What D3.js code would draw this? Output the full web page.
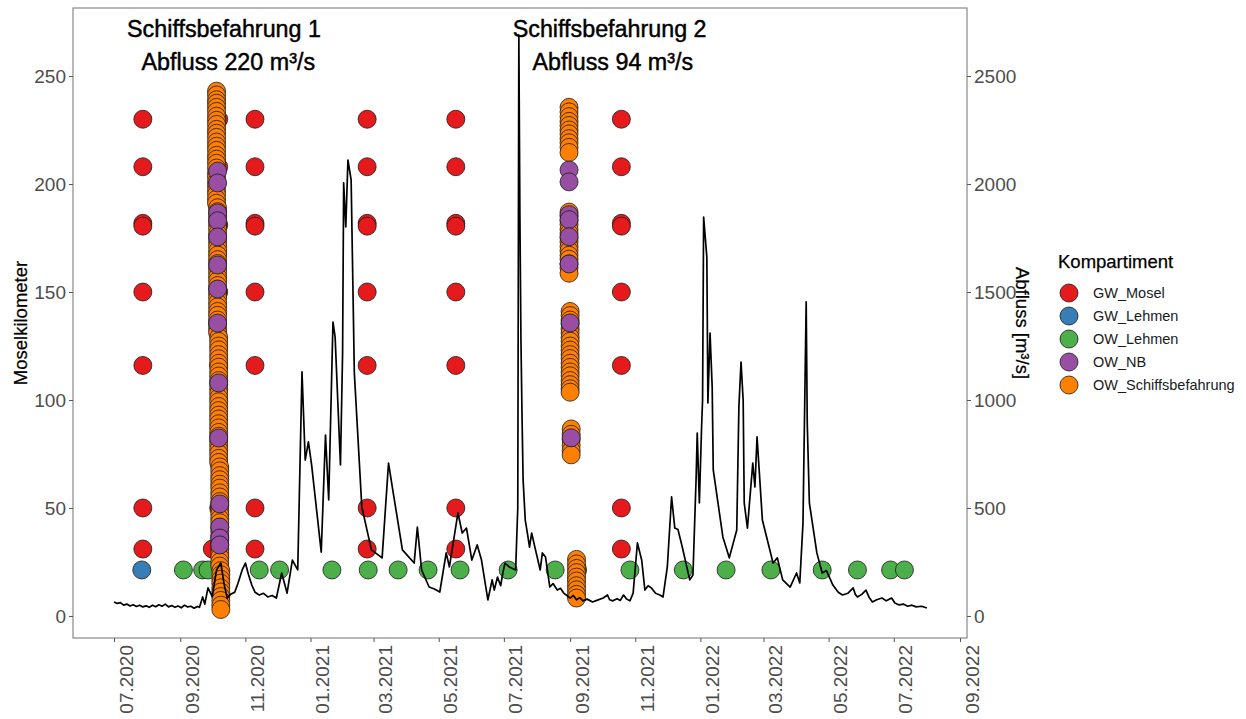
<!DOCTYPE html>
<html>
<head>
<meta charset="utf-8">
<title>Moselkilometer und Abfluss</title>
<script src="https://d3js.org/d3.v7.min.js"></script>
<style>
  body { margin: 0; background: #fff; }
  text { font-family: "Liberation Sans", Arial, sans-serif; }
</style>
</head>
<body>
<div id="chart"></div>
<script>
// ---- data ----
// GW_Mosel: sampling dates and the wells (Moselkilometer) sampled each time
var gwMoselDates = ["2020-07-28", "2020-11-10", "2021-02-23", "2021-05-17", "2021-10-19"];
var gwMoselKm = [230, 208, 181.8, 180.5, 150, 116, 50, 31];
// GW_Mosel points that sit behind the first ship campaign
var gwMoselHidden = [["2020-10-07", 230], ["2020-10-07", 208], ["2020-10-07", 181], ["2020-10-07", 150],
                     ["2020-10-07", 116], ["2020-10-07", 50], ["2020-10-01", 31]];

var gwLehmen = [["2020-07-27", 21.3]];

var owLehmen = [["2020-09-04", 21.3], ["2020-09-22", 21.3], ["2020-09-27", 21.3], ["2020-11-14", 21.3],
                ["2020-12-03", 21.3], ["2021-01-21", 21.3], ["2021-02-24", 21.3], ["2021-03-24", 21.3],
                ["2021-04-21", 21.3], ["2021-05-21", 21.3], ["2021-07-05", 21.3], ["2021-08-18", 21.3],
                ["2021-09-08", 21.3], ["2021-10-27", 21.3], ["2021-12-16", 21.3], ["2022-01-25", 21.3],
                ["2022-03-08", 21.3], ["2022-04-25", 21.3], ["2022-05-28", 21.3], ["2022-06-28", 21.3],
                ["2022-07-11", 21.3]];

// OW_NB (per day of the ship campaigns)
var owNB = [
  ["2020-10-06", [206, 200.5, 186.6, 183, 175.5, 162.5, 151.4, 135.6]],
  ["2020-10-07", [107.9, 82.4]],
  ["2020-10-08", [51.9, 41.2, 36.1, 32.9]],
  ["2021-08-31", [206.5, 201, 185.8, 183.5, 175.6, 163]],
  ["2021-09-01", [135.7]],
  ["2021-09-02", [82.5]]
];

// OW_Schiffsbefahrung (per day of the ship campaigns)
var owSchiff = [
  ["2020-10-05", [243, 241.2, 239, 237.4, 235.5, 233.6, 231.4, 229.5, 227.6, 225.3, 223.5, 221.6, 219.4,
                  217.5, 215.6, 213.3, 211.5, 209.6, 207.4, 205, 203.2, 201, 199.1, 197, 195.2, 193, 191.1]],
  ["2020-10-06", [189, 187.2, 185, 183.1, 181, 179.2, 177, 175.1, 173, 171.2, 169, 167.1, 165, 163.2, 161,
                  159.1, 157, 155.2, 153, 151.1, 149, 147.2, 145, 143.1, 141, 139.2, 137, 135.1, 133, 131.2]],
  ["2020-10-07", [129, 127.1, 125, 123.2, 121, 119.1, 117, 115.2, 113, 111.1, 109, 107.2, 105, 103.1, 101,
                  99.2, 97, 95.1, 93, 91.2, 89, 87.1, 85, 83.2, 81, 79.1, 77, 75.2, 73, 71.1]],
  ["2020-10-08", [69, 67.2, 65, 63.1, 61, 59.2, 57, 55.1, 53, 51.2, 49, 47.1, 45, 43.2, 41, 39.1, 37, 35.2,
                  33, 31.1, 29, 27.2, 25, 23.1]],
  ["2020-10-09", [21, 19.1, 17, 15.2, 13, 11.1, 9, 7.2, 5, 3]],
  ["2021-08-31", [235.5, 233.4, 231.2, 229, 227.1, 225, 223.2, 221, 219.1, 217, 214.6,
                  187, 185.1, 183, 181.2, 179, 177.1, 175, 173.2, 171, 169.1, 167, 165.2, 163, 161.1, 158.7]],
  ["2021-09-01", [141, 139.1, 137, 135.2, 133, 131.1, 129, 127.2, 125, 123.1, 121, 119.2, 117, 115.1, 113,
                  111.2, 109, 107.1, 105.2, 103.6]],
  ["2021-09-02", [86.6, 84.1, 81.6, 79, 76.6, 74.6]],
  ["2021-09-07", [26.2, 24.1, 22, 20.1, 18, 16.2, 14, 12.1, 10, 8.3]]
];

// Abfluss [m³/s], turning points of the daily series
var abfluss = [
  ["2020-07-01", 65], ["2020-07-04", 58], ["2020-07-07", 62], ["2020-07-10", 50], ["2020-07-13", 55],
  ["2020-07-16", 46], ["2020-07-19", 52], ["2020-07-22", 44], ["2020-07-25", 50], ["2020-07-28", 42],
  ["2020-07-31", 47], ["2020-08-03", 40], ["2020-08-06", 50], ["2020-08-09", 43], ["2020-08-12", 52],
  ["2020-08-15", 45], ["2020-08-18", 55], ["2020-08-21", 42], ["2020-08-24", 48], ["2020-08-27", 40],
  ["2020-08-30", 46], ["2020-09-02", 38], ["2020-09-05", 50], ["2020-09-08", 42], ["2020-09-11", 45],
  ["2020-09-14", 36], ["2020-09-17", 44], ["2020-09-19", 40],
  ["2020-09-22", 88], ["2020-09-24", 55], ["2020-09-27", 130], ["2020-10-01", 90], ["2020-10-05", 213],
  ["2020-10-09", 245], ["2020-10-12", 150], ["2020-10-15", 83], ["2020-10-18", 100], ["2020-10-22", 110],
  ["2020-10-25", 150], ["2020-10-29", 213], ["2020-11-01", 245], ["2020-11-04", 190], ["2020-11-07", 143],
  ["2020-11-10", 110], ["2020-11-14", 97], ["2020-11-18", 105], ["2020-11-22", 88], ["2020-11-26", 95],
  ["2020-11-30", 83],
  ["2020-12-05", 199], ["2020-12-10", 106], ["2020-12-15", 259], ["2020-12-20", 213], ["2020-12-24", 1130],
  ["2020-12-27", 722], ["2020-12-30", 806], ["2021-01-02", 700], ["2021-01-11", 296], ["2021-01-15", 838],
  ["2021-01-18", 537], ["2021-01-22", 1361], ["2021-01-24", 1292], ["2021-01-29", 699], ["2021-01-31", 1218],
  ["2021-02-01", 2005], ["2021-02-03", 1801], ["2021-02-05", 2111], ["2021-02-08", 2019], ["2021-02-11", 1125],
  ["2021-02-18", 505], ["2021-02-27", 306], ["2021-03-09", 269], ["2021-03-15", 708], ["2021-03-19", 583],
  ["2021-03-28", 306], ["2021-04-08", 245], ["2021-04-11", 412], ["2021-04-15", 213], ["2021-04-22", 134],
  ["2021-04-27", 125], ["2021-05-02", 111], ["2021-05-08", 292], ["2021-05-11", 227], ["2021-05-19", 477],
  ["2021-05-23", 384], ["2021-05-27", 407], ["2021-06-01", 259], ["2021-06-06", 329], ["2021-06-10", 260],
  ["2021-06-16", 74], ["2021-06-20", 167], ["2021-06-22", 120], ["2021-06-25", 180], ["2021-06-28", 140],
  ["2021-06-30", 199], ["2021-07-02", 245], ["2021-07-06", 227],
  ["2021-07-12", 213], ["2021-07-14", 500], ["2021-07-15", 2690], ["2021-07-16", 1850], ["2021-07-17", 1270],
  ["2021-07-18", 920], ["2021-07-19", 630], ["2021-07-21", 444], ["2021-07-23", 384], ["2021-07-25", 319],
  ["2021-07-27", 384], ["2021-07-30", 319], ["2021-08-04", 213], ["2021-08-06", 292], ["2021-08-09", 273],
  ["2021-08-13", 134], ["2021-08-16", 150], ["2021-08-20", 120], ["2021-08-23", 128], ["2021-08-26", 106],
  ["2021-09-01", 83], ["2021-09-04", 95], ["2021-09-07", 75], ["2021-09-10", 85], ["2021-09-13", 70],
  ["2021-09-17", 78], ["2021-09-22", 65], ["2021-09-26", 72], ["2021-10-02", 83], ["2021-10-06", 97],
  ["2021-10-08", 75], ["2021-10-11", 70], ["2021-10-15", 80], ["2021-10-18", 72], ["2021-10-21", 97],
  ["2021-10-24", 78], ["2021-10-27", 70], ["2021-10-30", 106], ["2021-11-03", 338], ["2021-11-07", 259],
  ["2021-11-10", 120], ["2021-11-13", 140], ["2021-11-16", 130], ["2021-11-20", 105], ["2021-11-24", 97],
  ["2021-11-27", 88], ["2021-12-01", 227],
  ["2021-12-05", 551], ["2021-12-08", 407], ["2021-12-11", 400], ["2021-12-15", 319], ["2021-12-22", 167],
  ["2021-12-25", 190], ["2021-12-28", 644], ["2021-12-29", 847], ["2021-12-31", 523], ["2022-01-02", 861],
  ["2022-01-03", 1000], ["2022-01-04", 1847], ["2022-01-07", 1662], ["2022-01-08", 986], ["2022-01-10", 1310],
  ["2022-01-12", 1060], ["2022-01-13", 676], ["2022-01-22", 366], ["2022-01-28", 269], ["2022-02-04", 398],
  ["2022-02-06", 968], ["2022-02-08", 1176], ["2022-02-10", 1000], ["2022-02-11", 523], ["2022-02-14", 407],
  ["2022-02-19", 708], ["2022-02-21", 597], ["2022-02-23", 829], ["2022-02-25", 676], ["2022-02-28", 444],
  ["2022-03-10", 245], ["2022-03-14", 269], ["2022-03-19", 167], ["2022-03-26", 134], ["2022-04-01", 199],
  ["2022-04-04", 153], ["2022-04-07", 430], ["2022-04-10", 1454], ["2022-04-11", 894], ["2022-04-13", 523],
  ["2022-04-20", 292], ["2022-04-25", 199], ["2022-04-29", 210], ["2022-05-05", 143], ["2022-05-10", 110],
  ["2022-05-14", 97], ["2022-05-19", 105], ["2022-05-24", 130], ["2022-05-26", 100], ["2022-05-28", 88],
  ["2022-06-01", 100], ["2022-06-05", 120], ["2022-06-08", 85], ["2022-06-11", 65], ["2022-06-15", 75],
  ["2022-06-20", 83], ["2022-06-24", 70], ["2022-06-29", 83], ["2022-07-02", 60], ["2022-07-06", 51],
  ["2022-07-10", 55], ["2022-07-14", 45], ["2022-07-18", 50], ["2022-07-22", 42], ["2022-07-27", 45],
  ["2022-08-01", 37]
];

var kmTicks = [0, 50, 100, 150, 200, 250];
var abflussTicks = [0, 500, 1000, 1500, 2000, 2500];
var dateTicks = ["2020-07-01", "2020-09-01", "2020-11-01", "2021-01-01", "2021-03-01", "2021-05-01",
                 "2021-07-01", "2021-09-01", "2021-11-01", "2022-01-01", "2022-03-01", "2022-05-01",
                 "2022-07-01", "2022-09-01"];

var categories = ["GW_Mosel", "GW_Lehmen", "OW_Lehmen", "OW_NB", "OW_Schiffsbefahrung"];
var catColors = ["#E41A1C", "#377EB8", "#4DAF4A", "#984EA3", "#FF7F00"];

var annotations = [
  { date: "2020-10-12", km: 268, text: "Schiffsbefahrung 1" },
  { date: "2020-10-16", km: 252.8, text: "Abfluss 220 m³/s" },
  { date: "2021-10-08", km: 268, text: "Schiffsbefahrung 2" },
  { date: "2021-10-11", km: 252.8, text: "Abfluss 94 m³/s" }
];

// ---- layout ----
var W = 1246, H = 719;
var panel = { left: 73, top: 8, right: 967, bottom: 638 };
var parse = d3.timeParse("%Y-%m-%d");

var svg = d3.select("#chart").append("svg")
  .attr("width", W).attr("height", H)
  .style("background", "#fff");

// scales
var x = d3.scaleTime()
  .domain([parse("2020-07-01"), parse("2022-09-01")])
  .range([114, 960]);
var y = d3.scaleLinear().domain([-10.2, 281.5]).range([panel.bottom, panel.top]);
var y2 = d3.scaleLinear().domain([-102, 2815]).range([panel.bottom, panel.top]);
var color = d3.scaleOrdinal().domain(categories).range(catColors);

// build point table
var points = [];
gwMoselDates.forEach(function(d) {
  gwMoselKm.forEach(function(k) { points.push({ cat: "GW_Mosel", date: d, km: k }); });
});
gwMoselHidden.forEach(function(p) { points.push({ cat: "GW_Mosel", date: p[0], km: p[1] }); });
gwLehmen.forEach(function(p) { points.push({ cat: "GW_Lehmen", date: p[0], km: p[1] }); });
owLehmen.forEach(function(p) { points.push({ cat: "OW_Lehmen", date: p[0], km: p[1] }); });
owSchiff.forEach(function(g) {
  g[1].forEach(function(k) { points.push({ cat: "OW_Schiffsbefahrung", date: g[0], km: k }); });
});
owNB.forEach(function(g) {
  g[1].forEach(function(k) { points.push({ cat: "OW_NB", date: g[0], km: k }); });
});

// points
svg.append("g").selectAll("circle")
  .data(points)
  .enter().append("circle")
  .attr("cx", function(d) { return x(parse(d.date)); })
  .attr("cy", function(d) { return y(d.km); })
  .attr("r", 9)
  .attr("fill", function(d) { return color(d.cat); })
  .attr("stroke", "#1a1a1a")
  .attr("stroke-width", 0.8);

// Abfluss line
var line = d3.line()
  .x(function(d) { return x(parse(d[0])); })
  .y(function(d) { return y2(d[1]); });
svg.append("path")
  .datum(abfluss)
  .attr("d", line)
  .attr("fill", "none")
  .attr("stroke", "#000")
  .attr("stroke-width", 1.7)
  .attr("stroke-linejoin", "round");

// annotations
svg.append("g").selectAll("text")
  .data(annotations)
  .enter().append("text")
  .attr("x", function(d) { return x(parse(d.date)); })
  .attr("y", function(d) { return y(d.km); })
  .attr("text-anchor", "middle")
  .style("font-size", "23.3px")
  .attr("fill", "#000")
  .attr("stroke", "#000")
  .attr("stroke-width", 0.45)
  .text(function(d) { return d.text; });

// panel border
svg.append("rect")
  .attr("x", panel.left).attr("y", panel.top)
  .attr("width", panel.right - panel.left).attr("height", panel.bottom - panel.top)
  .attr("fill", "none")
  .attr("stroke", "#7f7f7f")
  .attr("stroke-width", 1.1);

// axes
function styleAxis(g) {
  g.select(".domain").remove();
  g.selectAll(".tick line").attr("stroke", "#555");
  g.selectAll(".tick text").attr("fill", "#4d4d4d").style("font-size", "19px");
}

svg.append("g")
  .attr("transform", "translate(" + panel.left + ",0)")
  .call(d3.axisLeft(y).tickValues(kmTicks).tickSize(4).tickPadding(3))
  .call(styleAxis);

svg.append("g")
  .attr("transform", "translate(" + panel.right + ",0)")
  .call(d3.axisRight(y2).tickValues(abflussTicks).tickSize(4).tickPadding(3)
    .tickFormat(d3.format("d")))
  .call(styleAxis);

var xAxis = svg.append("g")
  .attr("transform", "translate(0," + panel.bottom + ")")
  .call(d3.axisBottom(x).tickValues(dateTicks.map(parse)).tickSize(4)
    .tickFormat(d3.timeFormat("%m.%Y")))
  .call(styleAxis);
xAxis.selectAll(".tick text")
  .attr("transform", "rotate(-90)")
  .attr("x", -7).attr("y", 18).attr("dy", 0)
  .attr("text-anchor", "end");

// axis titles
svg.append("text")
  .attr("transform", "translate(27,323) rotate(-90)")
  .attr("text-anchor", "middle")
  .style("font-size", "18.5px")
  .attr("stroke", "#000").attr("stroke-width", 0.25)
  .text("Moselkilometer");

svg.append("text")
  .attr("transform", "translate(1016,323) rotate(90)")
  .attr("text-anchor", "middle")
  .style("font-size", "18.5px")
  .attr("stroke", "#000").attr("stroke-width", 0.25)
  .text("Abfluss [m³/s]");

// legend
var legend = svg.append("g").attr("transform", "translate(1058,0)");
legend.append("text")
  .attr("x", 0).attr("y", 268)
  .style("font-size", "18.5px")
  .attr("stroke", "#000").attr("stroke-width", 0.25)
  .text("Kompartiment");
var items = legend.selectAll(".item")
  .data(categories)
  .enter().append("g")
  .attr("class", "item")
  .attr("transform", function(d, i) { return "translate(0," + (293 + i * 23) + ")"; });
items.append("circle")
  .attr("cx", 11).attr("cy", 0).attr("r", 9)
  .attr("fill", function(d) { return color(d); })
  .attr("stroke", "#1a1a1a").attr("stroke-width", 0.8);
items.append("text")
  .attr("x", 35).attr("y", 0).attr("dy", "0.35em")
  .style("font-size", "14.5px")
  .attr("fill", "#1a1a1a")
  .text(function(d) { return d; });
</script>
</body>
</html>
